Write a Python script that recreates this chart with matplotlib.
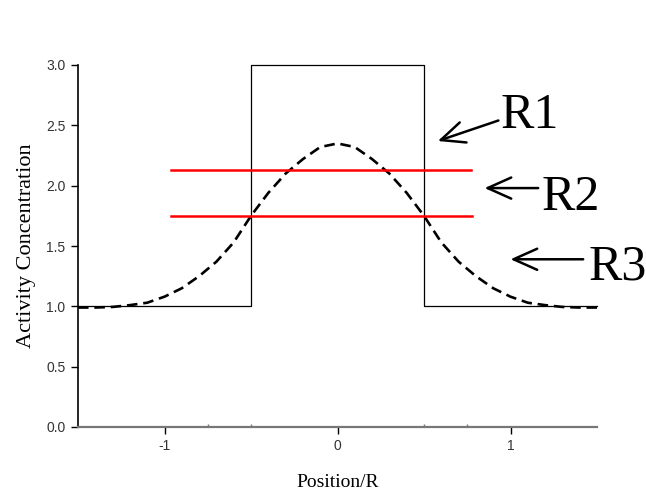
import matplotlib
matplotlib.use("Agg")
import matplotlib.pyplot as plt
import numpy as np

plt.rcParams['axes.unicode_minus'] = False

# ideal (true) activity profile: hot region inside |x| < 0.5
true_x = [-1.5, -0.5, -0.5, 0.5, 0.5, 1.5]
true_y = [1.0, 1.0, 3.0, 3.0, 1.0, 1.0]

# measured (blurred) profile
blur_x = [-1.5, -1.4, -1.3, -1.2, -1.1, -1.0, -0.9, -0.8, -0.7, -0.6, -0.5,
          -0.4, -0.3, -0.2, -0.1, 0.0, 0.1, 0.2, 0.3, 0.4, 0.5,
          0.6, 0.7, 0.8, 0.9, 1.0, 1.1, 1.2, 1.3, 1.4, 1.5]
blur_y = [0.99, 0.99, 0.995, 1.01, 1.03, 1.08, 1.15, 1.25, 1.37, 1.53, 1.75,
          1.94, 2.10, 2.22, 2.32, 2.35, 2.32, 2.22, 2.10, 1.94, 1.75,
          1.53, 1.37, 1.25, 1.15, 1.08, 1.03, 1.01, 0.995, 0.99, 0.99]

# red threshold levels
levels = [2.13, 1.75]
level_start = [-0.96, -0.96]
level_end = [0.77, 0.78]

# region labels: text, text anchor, arrow tail, arrow head
labels = ['R1', 'R2', 'R3']
label_pos = [(0.945, 2.48), (1.177, 1.80), (1.45, 1.22)]
arrow_tail = [(0.93, 2.54), (1.16, 1.98), (1.42, 1.39)]
arrow_head = [(0.58, 2.37), (0.85, 1.98), (1.00, 1.39)]

fig = plt.figure(figsize=(6.46, 4.91), dpi=100)
ax = fig.add_axes([78 / 646, 1 - 427 / 491, (597 - 78) / 646, (427 - 65) / 491])

ax.plot(true_x, true_y, color='black', lw=0.9, clip_on=False)
ax.plot(blur_x, blur_y, color='black', lw=1.9, linestyle=(0, (4, 2.2)))
for y, x0, x1 in zip(levels, level_start, level_end):
    ax.plot([x0, x1], [y, y], color='#ff0000', lw=1.8)

for txt, pos, tail, head in zip(labels, label_pos, arrow_tail, arrow_head):
    ax.annotate('', xy=head, xytext=tail, annotation_clip=False,
                arrowprops=dict(arrowstyle='->, head_length=0.85, head_width=0.38',
                                lw=1.8, color='black', mutation_scale=20,
                                shrinkA=0, shrinkB=0))
    ax.text(pos[0], pos[1], txt, family='Liberation Serif', fontsize=36,
            ha='left', va='baseline', clip_on=False)

ax.set_xlim(-1.5, 1.5)
ax.set_ylim(0, 3)
ax.set_xticks([-1, 0, 1])
ax.set_xticklabels(['-1', '0', '1'])
ax.set_xticks([-0.75, -0.5, 0.5, 0.75], minor=True)
ax.set_yticks(np.arange(0, 3.01, 0.5))
ax.set_yticklabels([f'{v:.1f}' for v in np.arange(0, 3.01, 0.5)])

ax.tick_params(axis='both', which='major', direction='out', length=5, width=1,
               labelsize=10, labelcolor='#333333', pad=4)
ax.tick_params(axis='x', which='minor', direction='in', length=2, width=1, color='#777777')
for lab in ax.get_xticklabels() + ax.get_yticklabels():
    lab.set_family('Liberation Sans')

ax.spines['top'].set_visible(False)
ax.spines['right'].set_visible(False)
ax.spines['left'].set_linewidth(1.2)
ax.spines['bottom'].set_linewidth(1.6)
ax.spines['bottom'].set_color('#777777')

ax.set_xlabel('Position/R', family='Liberation Serif', fontsize=14, labelpad=15)
ax.set_ylabel('Activity Concentration', family='Liberation Serif', fontsize=16, labelpad=7)

fig.savefig('out.png', dpi=100)
